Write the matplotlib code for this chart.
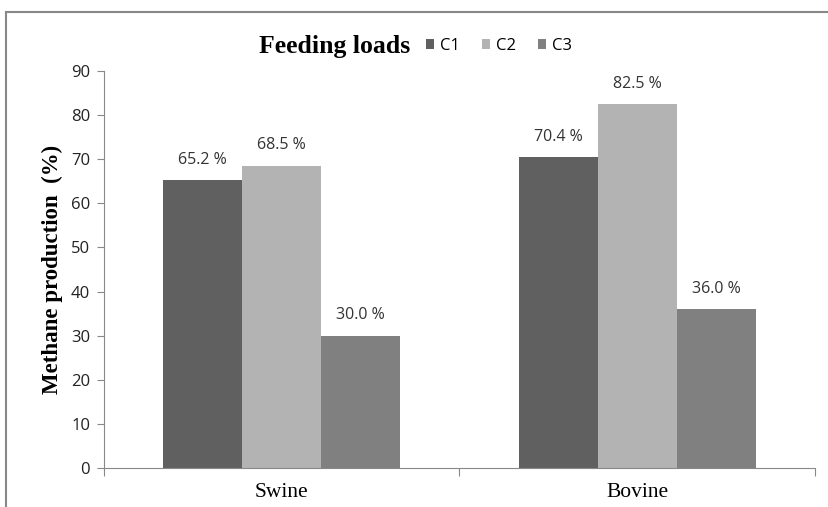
import matplotlib.pyplot as plt
import numpy as np

categories = ['Swine', 'Bovine']
series = ['C1', 'C2', 'C3']
c1 = [65.2, 70.4]
c2 = [68.5, 82.5]
c3 = [30.0, 36.0]
yticks = [0, 10, 20, 30, 40, 50, 60, 70, 80, 90]

colors = {'C1': '#606060', 'C2': '#b3b3b3', 'C3': '#808080'}
values = {'C1': c1, 'C2': c2, 'C3': c3}

W, H = 829, 507
fig = plt.figure(figsize=(W / 100, H / 100), dpi=100)
ax = fig.add_axes([104 / W, 1 - 468 / H, 711 / W, 397 / H])

# frame around the figure (only top and left are visible in the source)
fig.add_artist(plt.Line2D([6 / W, 6 / W], [0, 1 - 12 / H], transform=fig.transFigure,
                          color='#888888', lw=1.5))
fig.add_artist(plt.Line2D([6 / W, 1], [1 - 12 / H, 1 - 12 / H], transform=fig.transFigure,
                          color='#888888', lw=1.5))

x = np.arange(len(categories))
w = 79 / 355.5
for i, s in enumerate(series):
    pos = x + (i - 1) * w
    bars = ax.bar(pos, values[s], width=w, color=colors[s], label=s)
    for b, v in zip(bars, values[s]):
        ax.text(b.get_x() + b.get_width() / 2, v + 2.8, '%.1f %%' % v, ha='center', va='bottom',
                fontsize=11.5, family='Open Sans', color='#333333')

ax.set_xlim(-0.5, 1.5)
ax.set_ylim(0, 90)
ax.set_yticks(yticks)
ax.set_yticklabels([str(t) for t in yticks], family='Open Sans', fontsize=12, color='#222222')
ax.set_xticks([-0.5, 0.5, 1.5])
ax.set_xticklabels([])
ax.set_xticks(x, minor=True)
ax.set_xticklabels(categories, minor=True, family='Liberation Serif', fontsize=15.5)
ax.tick_params(axis='x', which='minor', length=0, pad=11)
ax.tick_params(axis='x', which='major', length=6, color='#888888', direction='out')
ax.tick_params(axis='y', length=5, color='#888888', pad=5)

for sp in ['top', 'right']:
    ax.spines[sp].set_visible(False)
for sp in ['left', 'bottom']:
    ax.spines[sp].set_color('#888888')

ax.set_ylabel('Methane production  (%)', family='Liberation Serif', fontweight='bold',
              fontsize=16.5, labelpad=6)

leg = ax.legend(loc='center left', bbox_to_anchor=(426 / W, 1 - 46 / H),
                bbox_transform=fig.transFigure, ncol=3, frameon=False,
                prop={'family': 'Open Sans', 'size': 12}, handlelength=0.5, handleheight=0.5,
                handletextpad=0.35, columnspacing=1.3, borderpad=0, borderaxespad=0)
fig.text(335 / W, 1 - 46 / H, 'Feeding loads', ha='center', va='center',
         family='Liberation Serif', fontweight='bold', fontsize=18.5)

plt.savefig('out.png', dpi=100)
plt.close()
